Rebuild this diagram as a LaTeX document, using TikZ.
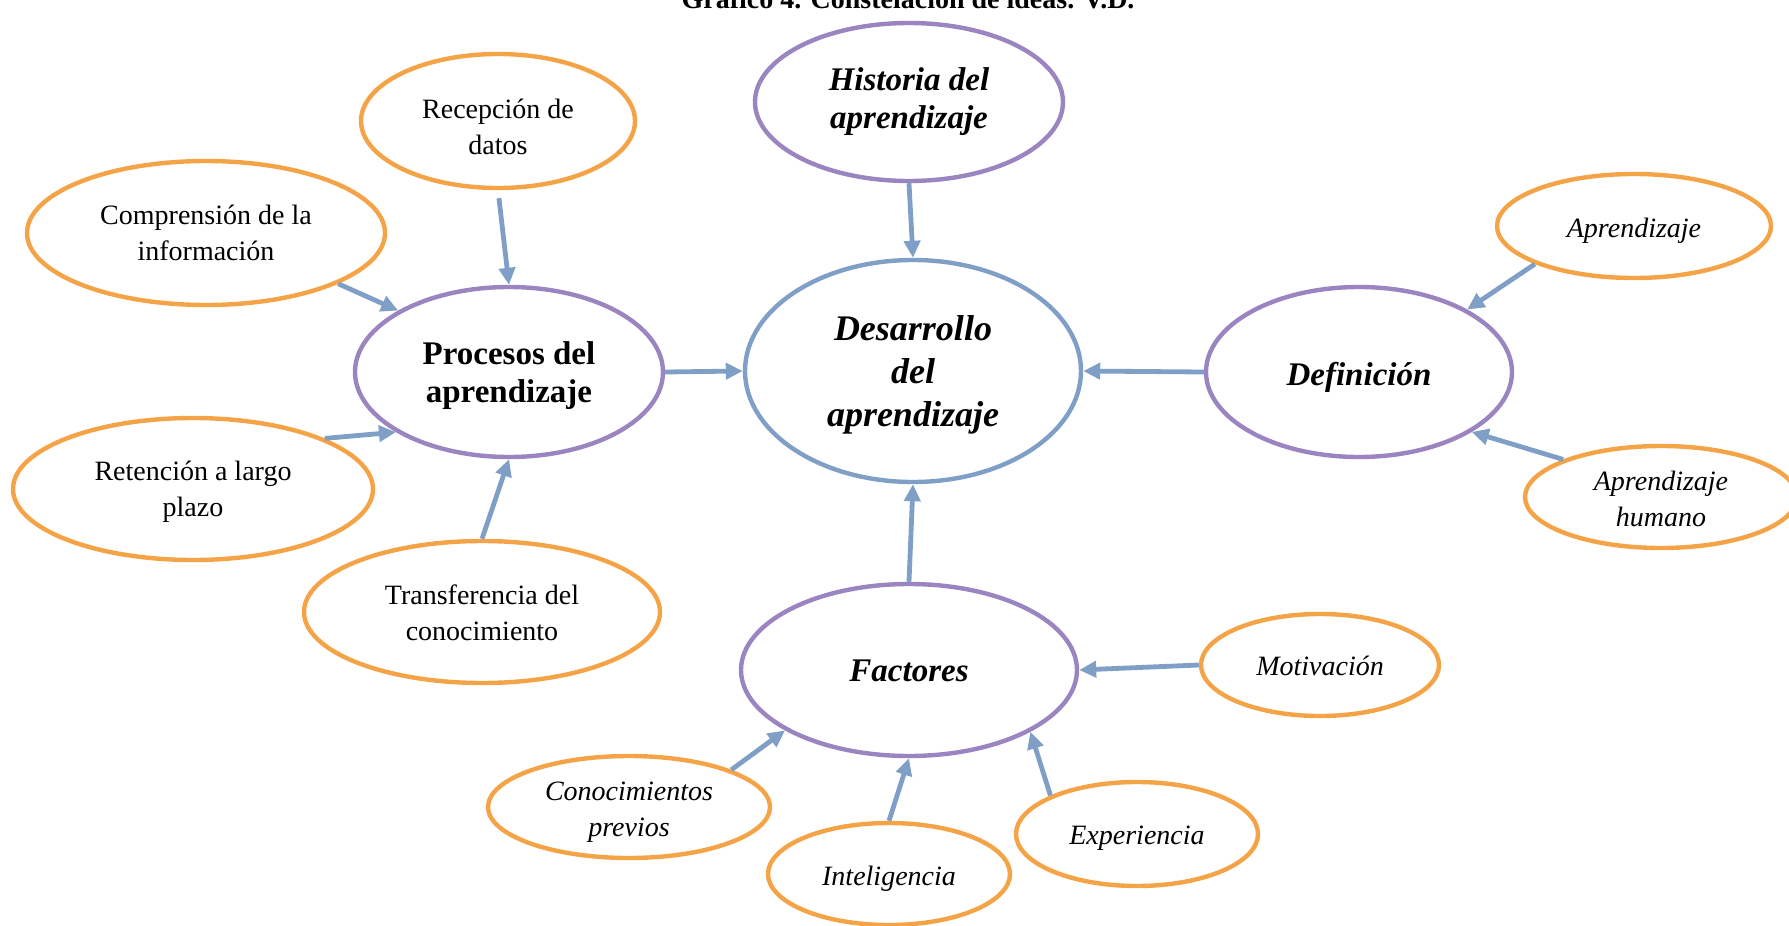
\documentclass[tikz,border=0pt]{standalone}
\usepackage{fontspec}
\setmainfont{Liberation Serif}
\usetikzlibrary{shapes.geometric,arrows.meta}
\definecolor{cpurple}{HTML}{9B85C1}
\definecolor{corange}{HTML}{F4A447}
\definecolor{cblue}{HTML}{7F9FC7}
\begin{document}
\begin{tikzpicture}[x=0.5pt,y=-0.5pt,
  el/.style={ellipse, draw, line width=2.2pt, inner sep=0pt, fill=white},
  pur/.style={el, draw=cpurple},
  org/.style={el, draw=corange},
  tb/.style={align=center, inner sep=0pt, font=\fontsize{16.5}{19}\selectfont\bfseries},
  tbi/.style={align=center, inner sep=0pt, font=\fontsize{16.5}{19}\selectfont\bfseries\itshape},
  tn/.style={align=center, inner sep=0pt, font=\fontsize{14}{18}\selectfont},
  ti/.style={align=center, inner sep=0pt, font=\fontsize{14}{18}\selectfont\itshape},
  arr/.style={draw=cblue, line width=2.4pt, -{Triangle[length=8.5pt,width=8pt]}},
]
\useasboundingbox (0,0) rectangle (1789,926);
\node[font=\fontsize{14}{16}\selectfont\bfseries, anchor=base] (title) at (908,9) {Gráfico 4. Constelación de ideas. V.D.};
% main ellipses
\node[el, draw=cblue, minimum width=168pt, minimum height=111pt] (des) at (913,371) {};
\node[pur, minimum width=154pt, minimum height=79pt] (his) at (909,102) {};
\node[pur, minimum width=154pt, minimum height=85pt] (pro) at (509,372) {};
\node[pur, minimum width=153pt, minimum height=85pt] (def) at (1359,372) {};
\node[pur, minimum width=168pt, minimum height=86pt] (fac) at (909,670) {};
% orange ellipses
\node[org, minimum width=137pt, minimum height=67pt] (rec) at (498,121) {};
\node[org, minimum width=179pt, minimum height=72pt] (com) at (206,233) {};
\node[org, minimum width=180pt, minimum height=71pt] (ret) at (193,489) {};
\node[org, minimum width=178pt, minimum height=71pt] (tra) at (482,612) {};
\node[org, minimum width=137pt, minimum height=52pt] (apr) at (1634,226) {};
\node[org, minimum width=136pt, minimum height=51pt] (ahu) at (1661,497) {};
\node[org, minimum width=119pt, minimum height=51pt] (mot) at (1320,665) {};
\node[org, minimum width=141pt, minimum height=51pt] (con) at (629,807) {};
\node[org, minimum width=121pt, minimum height=51pt] (int) at (889,874) {};
\node[org, minimum width=121pt, minimum height=52pt] (exp) at (1137,834) {};
% texts
\node[tbi, font=\fontsize{18}{21.5}\selectfont\bfseries\itshape, yshift=-2pt] (desT) at (des) {Desarrollo\\del\\aprendizaje};
\node[tbi] (hisT) at (his) {Historia del\\aprendizaje};
\node[tb, yshift=-2pt] (proT) at (pro) {Procesos del\\aprendizaje};
\node[tbi, yshift=-2.5pt] (defT) at (def) {Definición};
\node[tbi, yshift=-0.5pt] (facT) at (fac) {Factores};
\node[tn, yshift=-3pt] (recT) at (rec) {Recepción de\\datos};
\node[tn] (comT) at (com) {Comprensión de la\\información};
\node[tn, yshift=-1.5pt] (retT) at (ret) {Retención a largo\\plazo};
\node[tn, yshift=-0.5pt] (traT) at (tra) {Transferencia del\\conocimiento};
\node[ti, yshift=-2.5pt] (aprT) at (apr) {Aprendizaje};
\node[ti, yshift=-1pt] (ahuT) at (ahu) {Aprendizaje\\humano};
\node[ti, yshift=-0.5pt] (motT) at (mot) {Motivación};
\node[ti, yshift=-2.5pt] (conT) at (con) {Conocimientos\\previos};
\node[ti, yshift=-2.5pt] (intT) at (int) {Inteligencia};
\node[ti, yshift=-2pt] (expT) at (exp) {Experiencia};
% arrows
\draw[arr] (his.south) -- (des.north);
\draw[arr, shorten <=4pt] (rec.south) -- (pro.north);
\draw[arr] (com.-21.8) -- (pro.151.8);
\draw[arr] (ret.21.7) -- (pro.208.2);
\draw[arr] (tra.north) -- (pro.south);
\draw[arr] (pro.east) -- (des.west);
\draw[arr] (def.west) -- (des.east);
\draw[arr] (fac.north) -- (des.south);
\draw[arr] (apr.201.4) -- (def.30);
\draw[arr] (ahu.159) -- (def.-28);
\draw[arr] (mot.west) -- (fac.east);
\draw[arr] (con.20.7) -- (fac.206.4);
\draw[arr] (int.north) -- (fac.south);
\draw[arr] (exp.156.2) -- (fac.-27.3);
\end{tikzpicture}
\end{document}
